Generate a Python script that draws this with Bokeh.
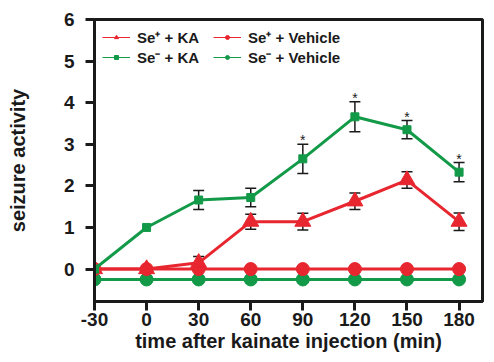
from bokeh.plotting import figure
from bokeh.models import (ColumnDataSource, Whisker, TeeHead, Legend, LegendItem,
                          Range1d, FixedTicker, PrintfTickFormatter)
from bokeh.core.properties import value
from bokeh.embed import file_html
from bokeh.resources import INLINE

# ---- data ----
time = [-30, 0, 30, 60, 90, 120, 150, 180]
se_minus_ka = [0.0, 1.0, 1.66, 1.72, 2.65, 3.66, 3.35, 2.33]
se_minus_ka_err = [0.0, 0.0, 0.23, 0.22, 0.35, 0.36, 0.22, 0.23]
se_plus_ka = [0.0, 0.0, 0.15, 1.14, 1.14, 1.63, 2.14, 1.14]
se_plus_ka_err = [0.0, 0.0, 0.15, 0.18, 0.20, 0.20, 0.20, 0.21]
se_plus_vehicle = [0.0, 0.0, 0.0, 0.0, 0.0, 0.0, 0.0, 0.0]
se_minus_vehicle = [-0.25, -0.25, -0.25, -0.25, -0.25, -0.25, -0.25, -0.25]
significant = [False, False, False, False, True, True, True, True]
x_ticks = [-30, 0, 30, 60, 90, 120, 150, 180]
y_ticks = [0, 1, 2, 3, 4, 5, 6]

RED = "#e8262f"
GREEN = "#129a48"
INK = "#1a1a1a"
FONT = "Liberation Sans"

p = figure(width=486, height=354, output_backend="svg", toolbar_location=None,
           x_range=Range1d(-30, 193.5), y_range=Range1d(-0.78, 6),
           min_border_left=94, min_border_right=4, min_border_top=19, min_border_bottom=40)
p.xgrid.visible = False
p.ygrid.visible = False
p.outline_line_color = INK
p.outline_line_width = 3
p.background_fill_color = "white"
p.border_fill_color = "white"

for ax in (p.xaxis[0], p.yaxis[0]):
    ax.axis_line_width = 3
    ax.axis_line_color = INK
    ax.major_tick_line_width = 3
    ax.major_tick_line_color = INK
    ax.major_tick_out = 9
    ax.major_tick_in = 0
    ax.minor_tick_line_color = None
    ax.major_label_text_font = FONT
    ax.major_label_text_font_style = "bold"
    ax.major_label_text_font_size = "19px"
    ax.major_label_text_color = INK
    ax.axis_label_text_font = FONT
    ax.axis_label_text_font_style = "bold"
    ax.axis_label_text_font_size = "20px"
    ax.axis_label_text_color = INK

p.xaxis.ticker = FixedTicker(ticks=x_ticks)
p.yaxis.ticker = FixedTicker(ticks=y_ticks)
p.xaxis.formatter = PrintfTickFormatter(format="%d")
p.yaxis.formatter = PrintfTickFormatter(format="%d")
p.xaxis.axis_label = "time after kainate injection (min)"
p.yaxis.axis_label = "seizure activity"
p.xaxis.major_label_standoff = 2
p.xaxis.axis_label_standoff = 1
p.yaxis.major_label_standoff = 11
p.yaxis.axis_label_standoff = 32

# vehicle lines
p.line(time, se_minus_vehicle, line_color=GREEN, line_width=3)
p.scatter(time, se_minus_vehicle, marker="circle", size=13, fill_color=GREEN, line_color=GREEN)
p.line(time, se_plus_vehicle, line_color=RED, line_width=3)
p.scatter(time, se_plus_vehicle, marker="circle", size=13, fill_color=RED, line_color=RED)

# KA lines
p.line(time, se_plus_ka, line_color=RED, line_width=3)
p.scatter(time, se_plus_ka, marker="triangle", size=16, fill_color=RED, line_color=RED)
p.line(time, se_minus_ka, line_color=GREEN, line_width=3)
p.scatter(time, se_minus_ka, marker="square", size=8, fill_color=GREEN, line_color=GREEN)

# error bars
def add_err(vals, errs):
    xs = [t for t, e in zip(time, errs) if e > 0]
    lo = [v - e for v, e in zip(vals, errs) if e > 0]
    hi = [v + e for v, e in zip(vals, errs) if e > 0]
    src = ColumnDataSource(dict(x=xs, lower=lo, upper=hi))
    w = Whisker(source=src, base="x", lower="lower", upper="upper",
                line_color=INK, line_width=1.5,
                upper_head=TeeHead(size=11, line_color=INK, line_width=1.5),
                lower_head=TeeHead(size=11, line_color=INK, line_width=1.5))
    p.add_layout(w)

add_err(se_plus_ka, se_plus_ka_err)
add_err(se_minus_ka, se_minus_ka_err)

# significance stars
sx = [t for t, s in zip(time, significant) if s]
sy = [v + e for v, e, s in zip(se_minus_ka, se_minus_ka_err, significant) if s]
p.text(sx, sy, text=["*"] * len(sx), text_align="center", text_baseline="bottom",
       y_offset=4, text_font=value(FONT), text_font_size="14px", text_color=INK)

# legend proxies (not drawn in the plot: NaN data)
nan = float("nan")
def proxy(color, marker, size):
    r1 = p.line([nan], [nan], line_color=color, line_width=1)
    r2 = p.scatter([nan], [nan], marker=marker, size=size, fill_color=color, line_color=color)
    return [r1, r2]

items = [
    LegendItem(label="Se\u207a + KA", renderers=proxy(RED, "triangle", 8)),
    LegendItem(label="Se\u207a + Vehicle", renderers=proxy(RED, "circle", 7)),
    LegendItem(label="Se\u207b + KA", renderers=proxy(GREEN, "square", 6)),
    LegendItem(label="Se\u207b + Vehicle", renderers=proxy(GREEN, "circle", 7)),
]
legend = Legend(items=items, location="top_left", orientation="horizontal", ncols=2,
                border_line_color=None, background_fill_alpha=0,
                label_text_font=FONT, label_text_font_style="bold",
                label_text_font_size="15px", label_text_color=INK,
                glyph_width=28, glyph_height=10, label_height=10, label_width=76,
                label_standoff=7, spacing=0, padding=4, margin=8)
p.add_layout(legend)

open("out.html", "w").write(file_html(p, INLINE))
